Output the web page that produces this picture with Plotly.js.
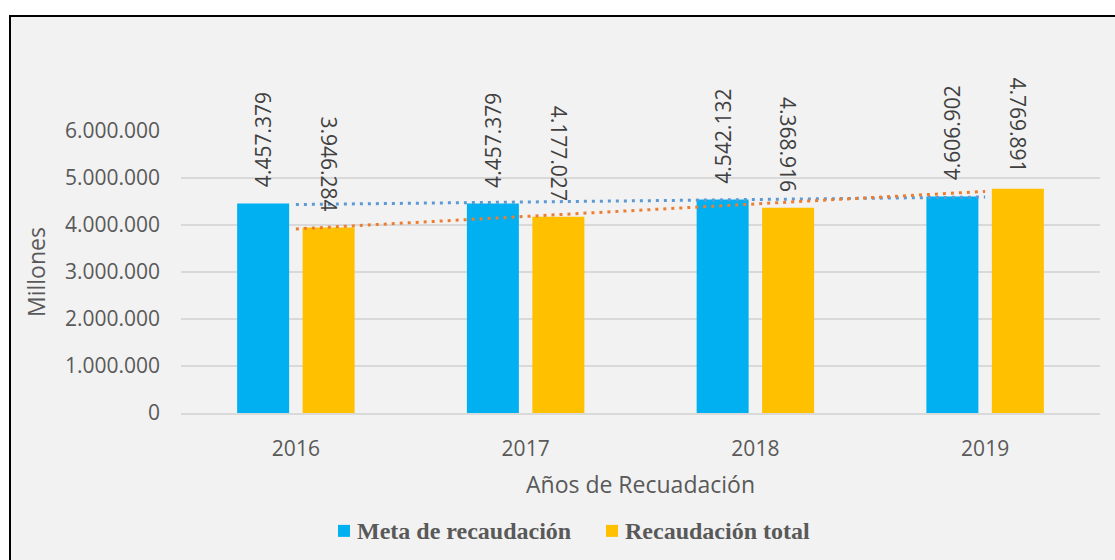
<!DOCTYPE html>
<html>
<head>
<meta charset="utf-8">
<script src="https://cdn.plot.ly/plotly-3.0.1.min.js"></script>
<style>
  html, body { margin: 0; padding: 0; background: #ffffff; }
  #frame { position: absolute; left: 9px; top: 15px; width: 1120px; height: 560px;
           background: #f2f2f2; border-left: 2.5px solid #000; border-top: 2.5px solid #000; }
  #chart { position: absolute; left: 0; top: 0; width: 1115px; height: 560px; }
</style>
</head>
<body>
<div id="frame"></div>
<div id="chart"></div>
<script>
// Data
const years = ['2016', '2017', '2018', '2019'];
const metaRecaudacion = [4457379, 4457379, 4542132, 4606902];
const recaudacionTotal = [3946284, 4177027, 4368916, 4769891];
const seriesNames = ['Meta de recaudación', 'Recaudación total'];
const seriesColors = ['#00b0f0', '#ffc000'];

function fmt(v) {
  return String(v).replace(/\B(?=(\d{3})+(?!\d))/g, '.');
}
function linearTrend(vals) {
  const n = vals.length;
  const xs = vals.map((_, i) => i);
  const mx = xs.reduce((a, b) => a + b, 0) / n;
  const my = vals.reduce((a, b) => a + b, 0) / n;
  let num = 0, den = 0;
  for (let i = 0; i < n; i++) { num += (xs[i] - mx) * (vals[i] - my); den += (xs[i] - mx) ** 2; }
  const s = num / den, b = my - s * mx;
  return [b, b + s * (n - 1)];
}

const tickFont = { family: 'Open Sans, sans-serif', size: 21, color: '#595959' };
const titleFont = { family: 'Open Sans, sans-serif', size: 23, color: '#595959' };
const labelFont = { family: 'Open Sans, sans-serif', size: 21, color: '#404040' };
const legendFont = { family: 'Liberation Serif, Times New Roman, serif', size: 24, color: '#595959', weight: 'bold' };

const traces = [
  { type: 'bar', name: seriesNames[0], x: years, y: metaRecaudacion,
    marker: { color: seriesColors[0] }, hoverinfo: 'skip', showlegend: false },
  { type: 'bar', name: seriesNames[1], x: years, y: recaudacionTotal,
    marker: { color: seriesColors[1] }, hoverinfo: 'skip', showlegend: false },
  { type: 'scatter', mode: 'lines', x: [years[0], years[years.length - 1]],
    y: linearTrend(metaRecaudacion), showlegend: false,
    line: { color: '#5b9bd5', width: 3, dash: '3px,5px' }, hoverinfo: 'skip' },
  { type: 'scatter', mode: 'lines', x: [years[0], years[years.length - 1]],
    y: linearTrend(recaudacionTotal), showlegend: false,
    line: { color: '#ed7d31', width: 3, dash: '3px,5px' }, hoverinfo: 'skip' }
];

const annotations = [];
years.forEach((yr, i) => {
  annotations.push({ x: i, y: metaRecaudacion[i], xref: 'x', yref: 'y',
    text: fmt(metaRecaudacion[i]), showarrow: false, textangle: -90,
    xanchor: 'center', yanchor: 'bottom', xshift: -32.75, yshift: 14, font: labelFont });
  annotations.push({ x: i, y: recaudacionTotal[i], xref: 'x', yref: 'y',
    text: fmt(recaudacionTotal[i]), showarrow: false, textangle: 90,
    xanchor: 'center', yanchor: 'bottom', xshift: 32.75, yshift: 14, font: labelFont });
});

// Legend (drawn manually to match the compact marker/text spacing)
const legendY = -0.418;
const legendItems = [{ x0: 338, tx: 355 }, { x0: 606, tx: 623 }];
const W = 1115 - 181 - 15;
const shapes = [];
legendItems.forEach((it, k) => {
  shapes.push({ type: 'rect', xref: 'paper', yref: 'paper',
    x0: (it.x0 - 181) / W, x1: (it.x0 + 12 - 181) / W,
    y0: legendY - 6 / 282, y1: legendY + 6 / 282,
    fillcolor: seriesColors[k], line: { width: 0 } });
  annotations.push({ xref: 'paper', yref: 'paper', x: (it.tx - 181) / W, y: legendY,
    xanchor: 'left', yanchor: 'middle', showarrow: false, text: seriesNames[k], font: legendFont });
});

const layout = {
  width: 1115, height: 560,
  margin: { l: 181, r: 15, t: 131, b: 147 },
  paper_bgcolor: 'rgba(0,0,0,0)', plot_bgcolor: 'rgba(0,0,0,0)',
  separators: ',.',
  barmode: 'group', bargap: 0.43, bargroupgap: 0.206,
  showlegend: false,
  xaxis: { type: 'category', range: [-0.5, 3.5], showgrid: false, showline: true,
    linecolor: '#d9d9d9', linewidth: 1.5, ticks: '', tickfont: tickFont, ticklabelstandoff: 16,
    title: { text: 'Años de Recuadación', font: titleFont, standoff: 16 }, automargin: false },
  yaxis: { range: [0, 6000000], dtick: 1000000, tickformat: ',d', showgrid: true,
    gridcolor: '#d9d9d9', gridwidth: 1.5, zeroline: false, showline: false, ticks: '',
    tickfont: tickFont, ticklabelstandoff: 20,
    title: { text: 'Millones', font: titleFont, standoff: 12 }, automargin: false },
  shapes: shapes,
  annotations: annotations
};

Plotly.newPlot('chart', traces, layout, { displayModeBar: false, staticPlot: true });
</script>
</body>
</html>
